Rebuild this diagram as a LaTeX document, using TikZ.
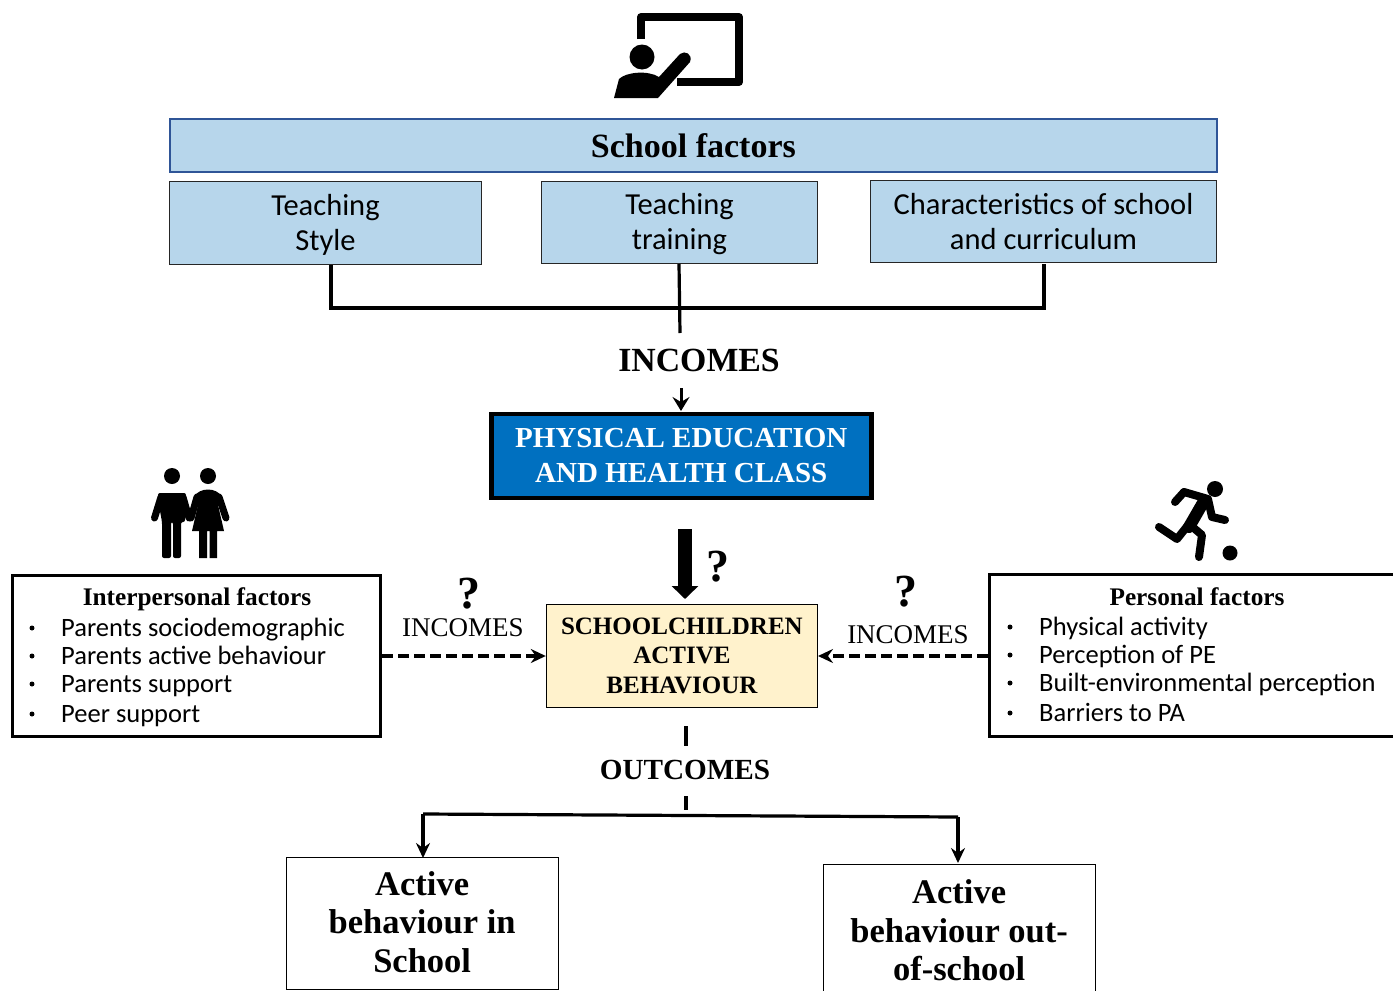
\documentclass[tikz,border=0pt]{standalone}
\usepackage{fontspec}
\setmainfont{Liberation Serif}
\setsansfont{Carlito}
\usetikzlibrary{arrows.meta}
\definecolor{lblue}{HTML}{B7D6EB}
\definecolor{dblue}{HTML}{0070C0}
\definecolor{cream}{HTML}{FFF2CC}
\definecolor{navy}{HTML}{2F5597}
\tikzset{
 bluebox/.style={draw=black!85,line width=1.4pt,fill=lblue,inner sep=0pt,align=center,anchor=north west,font=\sffamily\fontsize{30.5}{35}\selectfont},
 blackbox/.style={draw=black,line width=3.2pt,inner sep=0pt,anchor=north west},
 whitebox/.style={draw=black,line width=1.3pt,inner sep=0pt,anchor=north west,align=center,font=\bfseries\fontsize{34.5}{38.5}\selectfont},
 head/.style={font=\bfseries\fontsize{25.3}{28}\selectfont},
 item/.style={anchor=base west,font=\sffamily\fontsize{26.5}{28}\selectfont,inner sep=0pt},
 lab/.style={font=\bfseries\fontsize{33.8}{36}\selectfont,inner sep=0pt},
 labb/.style={font=\fontsize{27}{30}\selectfont,inner sep=0pt},
 qm/.style={font=\bfseries\fontsize{46}{48}\selectfont,inner sep=0pt},
 conn/.style={line width=3.2pt},
 arr/.style={line width=3.2pt,-{Stealth[length=15pt,width=14pt,inset=5pt]}},
 dasharr/.style={line width=3.2pt,dash pattern=on 11pt off 5pt,-{Stealth[length=15pt,width=14pt,inset=5pt]}},
 icon/.style={fill=black,draw=none},
 limb/.style={line cap=round,line join=round,draw=black},
}
\begin{document}
\begin{tikzpicture}[x=1pt,y=-1pt]
\useasboundingbox (0,0) rectangle (1393,991);
% teacher icon
\draw[line width=8pt,line join=round] (641,39) -- (641,17) -- (739,17) -- (739,82) -- (677,82);
\fill[icon] (642,57) circle (12.5);
\fill[icon] (614,98) -- (619,79) .. controls (626,72) and (648,70) .. (659,77) -- (680,54) .. controls (685,50) and (693,54) .. (690,62) -- (658,98) -- cycle;
% people icon
\fill[icon] (172,476) circle (8);
\fill[icon] (208,476) circle (8);
\draw[limb,line width=7pt] (154.5,518) -- (161,497);
\draw[limb,line width=7pt] (189,518) -- (183,497);
\fill[icon,rounded corners=2pt] (158,493) -- (186,493) -- (185,522) -- (181,522) -- (181,558) -- (173,558) -- (173,522) -- (171,522) -- (171,558) -- (162,558) -- (162,522) -- (158,500) -- cycle;
\draw[limb,line width=7pt] (191,518) -- (197,497);
\draw[limb,line width=7pt] (226,518) -- (219,497);
\fill[icon] (194,497) .. controls (199,487) and (217,487) .. (222,497) -- (223,500) -- (218,505) -- (224,531) -- (217,531) -- (217,558) -- (209.5,558) -- (209.5,531) -- (207,531) -- (207,558) -- (199,558) -- (199,531) -- (192,531) -- (198,505) -- cycle;
% runner icon
\fill[icon] (1215,489) circle (8);
\fill[icon] (1230,553) circle (7.5);
\draw[limb,line width=8pt] (1175,502) -- (1184,492) -- (1208,499) -- (1212,517) -- (1225,520);
\draw[limb,line width=12pt] (1204,501) -- (1189,527);
\draw[limb,line width=8pt] (1159,527) -- (1177,539) -- (1189,524) -- (1202,535) -- (1199,557);
% school factors
\node[draw=navy,line width=1.8pt,fill=lblue,minimum width=1047pt,minimum height=53pt,inner sep=0pt,anchor=north west,font=\bfseries\fontsize{34}{38}\selectfont] (sf) at (169,118.1) {School factors};
\node[bluebox,minimum width=312pt,minimum height=83pt] (ts) at (168.8,180.8) {\rule{0pt}{25pt}Teaching\\Style};
\node[bluebox,minimum width=276pt,minimum height=82pt] (tt) at (540.8,180.8) {\rule{0pt}{25pt}Teaching\\training};
\node[bluebox,minimum width=346pt,minimum height=82pt] (cs) at (869.8,179.8) {Characteristics of school\\and curriculum};
\coordinate (j1) at (331,308);
\coordinate (j3) at (1044,308);
\coordinate (j2) at (680,333);
\draw[conn] (331,265) -- (j1) -- (j3) -- (1044,264);
\draw[conn] (679,264) -- (j2);
\node[lab] (inc) at (699,360) {INCOMES};
% PE class
\node[draw=black,line width=4.5pt,fill=dblue,text=white,minimum width=380pt,minimum height=84pt,inner sep=0pt,align=center,anchor=north west,font=\bfseries\fontsize{29}{35}\selectfont] (pe) at (489,411.5) {PHYSICAL EDUCATION\\AND HEALTH CLASS};
\coordinate (a0) at (681,388);
\draw[line width=3pt,-{Stealth[length=14pt,width=17pt,inset=5pt]}] (a0) -- (681,411);
% schoolchildren
\node[draw=black,line width=1.2pt,fill=cream,minimum width=271pt,minimum height=103pt,inner sep=0pt,align=center,anchor=north west,font=\bfseries\fontsize{25}{29.5}\selectfont] (sc) at (545.8,603.8) {SCHOOLCHILDREN\\ACTIVE\\BEHAVIOUR};
\coordinate (b0) at (685,529);
\draw[line width=14pt,-{Triangle[length=13pt,width=26pt]}] (b0) -- (685,599);
\node[qm] (q0) at (718,567) {?};
% interpersonal
\node[blackbox,minimum width=368pt,minimum height=161pt] (ip) at (11,574) {};
\node[head] (iph) at (197,599) {Interpersonal factors};
\foreach \y/\t in {636/Parents sociodemographic,664/Parents active behaviour,692/Parents support,722/Peer support}{
  \node[item] at (61,\y) {\t};
  \fill (32,\y-8) circle (2.5);
}
% personal
\node[blackbox,minimum width=410pt,minimum height=162pt] (pp) at (988,573) {};
\node[head] (pph) at (1197,597) {Personal factors};
\foreach \y/\t in {635/Physical activity,663/Perception of PE,691/Built-environmental perception,721/Barriers to PA}{
  \node[item] at (1039,\y) {\t};
  \fill (1010,\y-8) circle (2.5);
}
\node[qm] (q1) at (469,594) {?};
\node[labb] (i1) at (463,628) {INCOMES};
\node[qm] (q2) at (906,592) {?};
\node[labb] (i2) at (908,635) {INCOMES};
\draw[dasharr] (ip.east |- 0,656) -- (sc.west |- 0,656);
\draw[dasharr] (pp.west |- 0,656) -- (sc.east |- 0,656);
% outcomes
\coordinate (o1) at (686,726);
\coordinate (o2) at (686,746);
\coordinate (o3) at (686,796);
\coordinate (o4) at (686,810);
\draw[conn] (o1) -- (o2);
\draw[conn] (o3) -- (o4);
\node[lab,font=\bfseries\fontsize{29.2}{34}\selectfont] (oc) at (685,770) {OUTCOMES};
\node[whitebox,minimum width=272pt,minimum height=132pt,text depth=3pt] (ab1) at (285.5,856.5) {Active\\behaviour in\\School};
\node[whitebox,minimum width=272pt,minimum height=140pt,text depth=8pt] (ab2) at (822.5,863.5) {Active\\behaviour out-\\of-school};
\coordinate (t1) at (423,814);
\coordinate (t2) at (958,817);
\draw[conn] (t1) -- (t2);
\draw[arr] (t1) -- (423,858);
\draw[arr] (t2) -- (958,863);
\end{tikzpicture}
\end{document}
